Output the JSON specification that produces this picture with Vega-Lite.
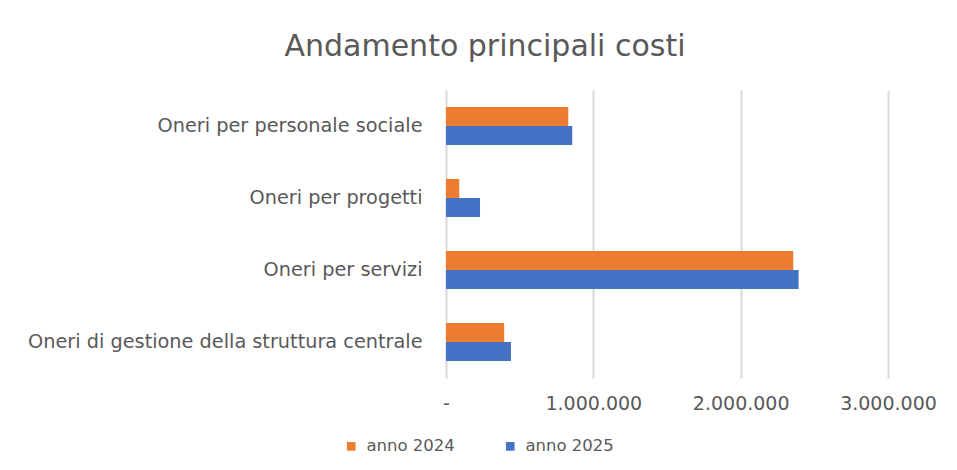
{
  "$schema": "https://vega.github.io/schema/vega-lite/v6.json",
  "autosize": {"type": "none"},
  "width": 442,
  "height": 288,
  "padding": {"left": 446, "top": 90, "right": 69, "bottom": 92},
  "background": "white",
  "title": {
    "text": "Andamento principali costi",
    "font": "DejaVu Sans",
    "fontSize": 30,
    "fontWeight": "normal",
    "color": "#595959",
    "anchor": "middle",
    "dx": -182,
    "offset": 28
  },
  "data": {
    "values": [
      {"categoria": "Oneri per personale sociale", "anno": "anno 2024", "valore": 830000},
      {"categoria": "Oneri per personale sociale", "anno": "anno 2025", "valore": 857000},
      {"categoria": "Oneri per progetti", "anno": "anno 2024", "valore": 90000},
      {"categoria": "Oneri per progetti", "anno": "anno 2025", "valore": 231000},
      {"categoria": "Oneri per servizi ", "anno": "anno 2024", "valore": 2357000},
      {"categoria": "Oneri per servizi ", "anno": "anno 2025", "valore": 2393000},
      {"categoria": "Oneri di gestione della struttura centrale", "anno": "anno 2024", "valore": 395000},
      {"categoria": "Oneri di gestione della struttura centrale", "anno": "anno 2025", "valore": 441000}
    ]
  },
  "mark": {"type": "bar"},
  "encoding": {
    "y": {
      "field": "categoria",
      "type": "nominal",
      "sort": ["Oneri per personale sociale", "Oneri per progetti", "Oneri per servizi ", "Oneri di gestione della struttura centrale"],
      "scale": {"paddingInner": 0.47, "paddingOuter": 0.235},
      "axis": {
        "title": null,
        "ticks": false,
        "domain": false,
        "labelPadding": 24,
        "labelFont": "DejaVu Sans",
        "labelFontSize": 19.3,
        "labelColor": "#595959",
        "labelLimit": 500
      }
    },
    "yOffset": {
      "field": "anno",
      "type": "nominal",
      "sort": ["anno 2024", "anno 2025"],
      "scale": {"paddingInner": 0, "paddingOuter": 0}
    },
    "x": {
      "field": "valore",
      "type": "quantitative",
      "scale": {"domain": [0, 3000000], "nice": false},
      "axis": {
        "title": null,
        "values": [0, 1000000, 2000000, 3000000],
        "labelExpr": "datum.value == 0 ? '-' : replace(format(datum.value, ','), regexp(',', 'g'), '.')",
        "ticks": false,
        "domain": false,
        "grid": true,
        "gridColor": "#d9d9d9",
        "gridWidth": 2,
        "labelPadding": 16,
        "labelFont": "DejaVu Sans",
        "labelFontSize": 19,
        "labelColor": "#595959",
        "labelFlush": false
      }
    },
    "color": {
      "field": "anno",
      "type": "nominal",
      "scale": {"domain": ["anno 2024", "anno 2025"], "range": ["#ED7D31", "#4472C4"]},
      "legend": {
        "title": null,
        "orient": "none",
        "direction": "horizontal",
        "legendX": -103,
        "legendY": 348,
        "symbolType": "square",
        "symbolSize": 75,
        "symbolStrokeWidth": 0,
        "labelFont": "DejaVu Sans",
        "labelFontSize": 16.5,
        "labelColor": "#595959",
        "columnPadding": 47,
        "labelOffset": 7
      }
    }
  },
  "config": {"view": {"stroke": null}}
}
